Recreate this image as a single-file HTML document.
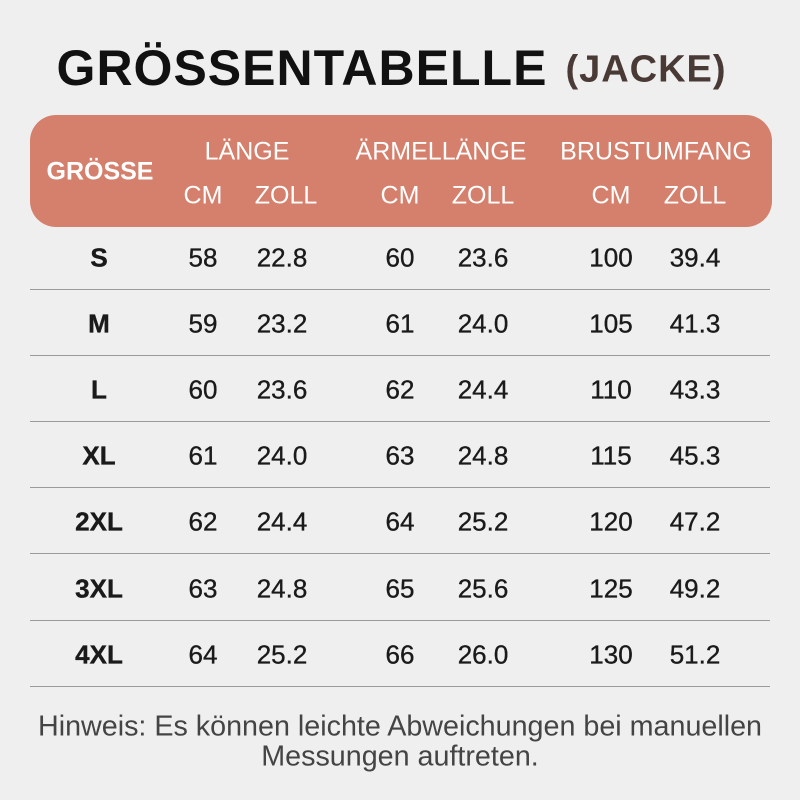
<!DOCTYPE html>
<html><head><meta charset="utf-8"><style>
body{margin:0;width:800px;height:800px;background:#efefef;position:relative;overflow:hidden;font-family:"Liberation Sans",sans-serif}
.t{position:absolute;white-space:nowrap;transform:translate(-50%,-50%)}
.hdr{position:absolute;left:30px;top:115px;width:742px;height:112px;background:#d4806c;border-radius:26px}
.h{color:#fff;font-size:25px}
.d{color:#1a1a1a;font-size:26px;-webkit-text-stroke:0.35px #1a1a1a}
.line{position:absolute;left:30px;width:740px;height:1px;background:#9a9a9a}
</style></head><body>
<div class="t" style="left:302px;top:68px;font-size:50px;font-weight:900;color:#111;letter-spacing:1px">GRÖSSENTABELLE</div>
<div class="t" style="left:646px;top:70px;font-size:38px;font-weight:700;color:#4a3a36;letter-spacing:1px">(JACKE)</div>
<div class="hdr"></div>
<div class="t h" style="left:100px;top:172px;font-weight:700">GRÖSSE</div>
<div class="t h" style="left:247px;top:152px">LÄNGE</div>
<div class="t h" style="left:441px;top:152px">ÄRMELLÄNGE</div>
<div class="t h" style="left:656px;top:152px">BRUSTUMFANG</div>
<div class="t h" style="left:203px;top:196px">CM</div>
<div class="t h" style="left:286px;top:196px">ZOLL</div>
<div class="t h" style="left:400px;top:196px">CM</div>
<div class="t h" style="left:483px;top:196px">ZOLL</div>
<div class="t h" style="left:611px;top:196px">CM</div>
<div class="t h" style="left:695px;top:196px">ZOLL</div>
<div id="rows"></div>
<div class="t" style="left:400px;top:727px;font-size:28.7px;color:#444">Hinweis: Es können leichte Abweichungen bei manuellen</div>
<div class="t" style="left:400px;top:757px;font-size:28.7px;color:#444">Messungen auftreten.</div>
<script>
var data=[["S",58,"22.8",60,"23.6",100,"39.4"],["M",59,"23.2",61,"24.0",105,"41.3"],["L",60,"23.6",62,"24.4",110,"43.3"],["XL",61,"24.0",63,"24.8",115,"45.3"],["2XL",62,"24.4",64,"25.2",120,"47.2"],["3XL",63,"24.8",65,"25.6",125,"49.2"],["4XL",64,"25.2",66,"26.0",130,"51.2"]];
var xs=[99,203,282,400,483,611,695],h="";
data.forEach(function(r,i){var y=258+i*66.1;
r.forEach(function(v,j){h+='<div class="t d" style="left:'+xs[j]+'px;top:'+y+'px;'+(j==0?'font-weight:700':'')+'">'+v+'</div>';});
h+='<div class="line" style="top:'+Math.round(y+31)+'px"></div>';});
document.getElementById("rows").innerHTML=h;
</script>
</body></html>
